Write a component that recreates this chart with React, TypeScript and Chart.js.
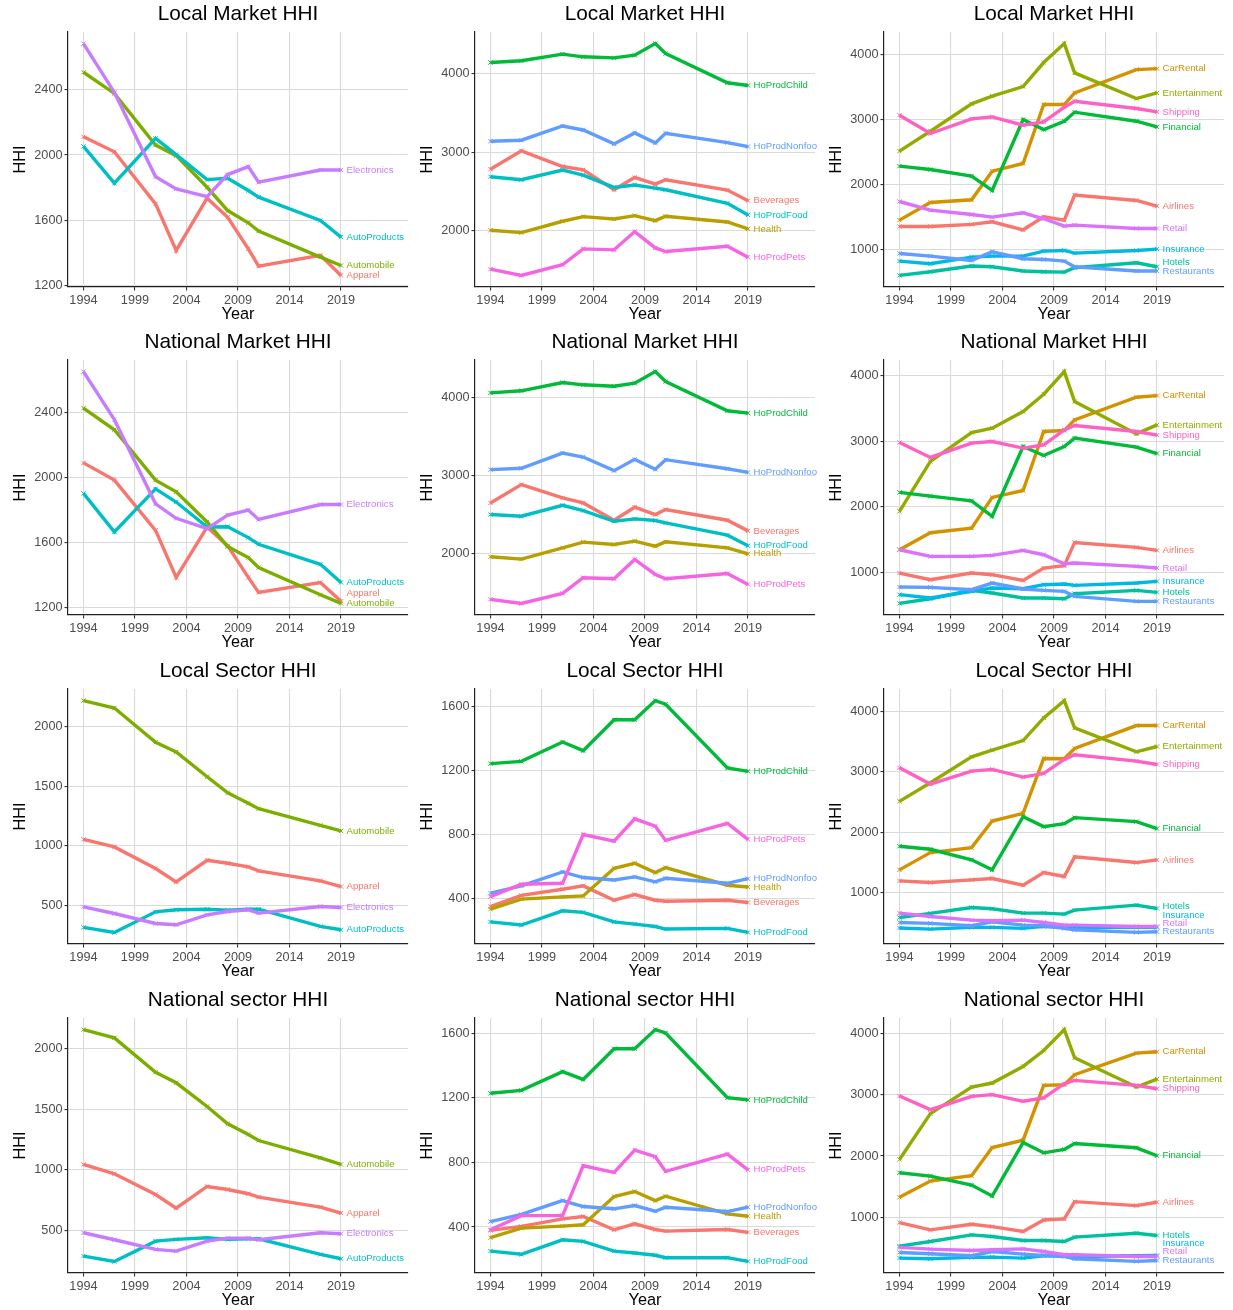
import React, { useEffect, useRef } from 'react';
import { Chart, registerables } from 'chart.js';

Chart.register(...registerables);

const FONT = '"Liberation Sans", Arial, Helvetica, sans-serif';

// ---------- shared axes ----------
const YEARS = [1994, 1997, 2001, 2003, 2006, 2008, 2010, 2011, 2017, 2019];
const X_TICKS = [1994, 1999, 2004, 2009, 2014, 2019];
const X_LIMITS = [1994, 2024];

// ---------- series groups ----------
const NAMES_A = ['Apparel', 'Automobile', 'AutoProducts', 'Electronics'];
const COLORS_A = ['#F8766D', '#7CAE00', '#00BFC4', '#C77CFF'];

const NAMES_B = ['Beverages', 'Health', 'HoProdChild', 'HoProdFood', 'HoProdNonfoo', 'HoProdPets'];
const COLORS_B = ['#F8766D', '#B79F00', '#00BA38', '#00BFC4', '#619CFF', '#F564E3'];

const NAMES_C = ['Airlines', 'CarRental', 'Entertainment', 'Financial', 'Hotels', 'Insurance', 'Restaurants', 'Retail', 'Shipping'];
const COLORS_C = ['#F8766D', '#D39200', '#93AA00', '#00BA38', '#00C19F', '#00B9E3', '#619CFF', '#DB72FB', '#FF61C3'];

// ---------- y tick labels ----------
const Y_TICKS_A_MARKET = [1200, 1600, 2000, 2400];
const Y_TICKS_A_SECTOR = [500, 1000, 1500, 2000];
const Y_TICKS_B_MARKET = [2000, 3000, 4000];
const Y_TICKS_B_SECTOR = [400, 800, 1200, 1600];
const Y_TICKS_C = [1000, 2000, 3000, 4000];

// ---------- Local Market HHI ----------
const LOCAL_MARKET_A: Record<string, number[]> = {
  Apparel: [2112, 2020, 1700, 1414, 1735, 1618, 1424, 1318, 1384, 1261],
  Automobile: [2508, 2378, 2061, 1996, 1802, 1659, 1584, 1533, 1373, 1322],
  AutoProducts: [2053, 1827, 2102, 2002, 1849, 1857, 1782, 1741, 1598, 1496],
  Electronics: [2684, 2384, 1867, 1792, 1745, 1880, 1929, 1833, 1908, 1908],
};
const LOCAL_MARKET_B: Record<string, number[]> = {
  Beverages: [2783, 3017, 2817, 2775, 2520, 2677, 2592, 2648, 2516, 2380],
  Health: [2002, 1972, 2117, 2176, 2147, 2189, 2125, 2181, 2108, 2019],
  HoProdChild: [4146, 4168, 4253, 4219, 4206, 4240, 4388, 4261, 3887, 3853],
  HoProdFood: [2686, 2648, 2771, 2707, 2550, 2580, 2541, 2520, 2346, 2198],
  HoProdNonfoo: [3140, 3153, 3335, 3284, 3106, 3246, 3119, 3242, 3123, 3072],
  HoProdPets: [1505, 1425, 1561, 1764, 1752, 1985, 1777, 1730, 1798, 1658],
};
const LOCAL_MARKET_C: Record<string, number[]> = {
  Airlines: [1349, 1349, 1380, 1421, 1297, 1497, 1446, 1831, 1749, 1662],
  CarRental: [1446, 1718, 1759, 2200, 2318, 3226, 3226, 3405, 3764, 3779],
  Entertainment: [2508, 2815, 3236, 3354, 3503, 3872, 4164, 3713, 3318, 3405],
  Financial: [2277, 2226, 2123, 1903, 2995, 2841, 2969, 3108, 2969, 2882],
  Hotels: [595, 651, 739, 728, 662, 651, 646, 713, 790, 728],
  Insurance: [815, 774, 877, 892, 892, 969, 979, 938, 979, 1000],
  Restaurants: [933, 892, 826, 959, 851, 841, 815, 728, 662, 662],
  Retail: [1733, 1600, 1533, 1492, 1559, 1467, 1354, 1369, 1318, 1318],
  Shipping: [3062, 2780, 3005, 3036, 2908, 2959, 3185, 3277, 3164, 3113],
};

// ---------- National Market HHI ----------
const NATIONAL_MARKET_A: Record<string, number[]> = {
  Apparel: [2088, 1982, 1673, 1383, 1693, 1577, 1383, 1291, 1352, 1236],
  Automobile: [2425, 2292, 1982, 1910, 1724, 1573, 1505, 1444, 1276, 1223],
  AutoProducts: [1900, 1663, 1928, 1847, 1693, 1695, 1628, 1587, 1464, 1352],
  Electronics: [2650, 2354, 1836, 1747, 1683, 1767, 1798, 1740, 1832, 1832],
};
const NATIONAL_MARKET_B: Record<string, number[]> = {
  Beverages: [2645, 2880, 2709, 2645, 2423, 2590, 2496, 2560, 2423, 2286],
  Health: [1953, 1923, 2068, 2141, 2111, 2154, 2090, 2145, 2068, 1991],
  HoProdChild: [4060, 4086, 4192, 4163, 4145, 4184, 4333, 4205, 3829, 3799],
  HoProdFood: [2496, 2474, 2615, 2547, 2410, 2440, 2419, 2389, 2231, 2094],
  HoProdNonfoo: [3073, 3090, 3286, 3235, 3060, 3205, 3077, 3201, 3085, 3038],
  HoProdPets: [1406, 1354, 1483, 1684, 1671, 1919, 1726, 1671, 1739, 1598],
};
const NATIONAL_MARKET_C: Record<string, number[]> = {
  Airlines: [993, 892, 993, 968, 882, 1069, 1105, 1459, 1383, 1338],
  CarRental: [1348, 1606, 1677, 2144, 2250, 3147, 3162, 3324, 3669, 3694],
  Entertainment: [1931, 2691, 3132, 3198, 3451, 3715, 4059, 3603, 3111, 3248],
  Financial: [2220, 2164, 2093, 1855, 2919, 2782, 2919, 3046, 2909, 2812],
  Hotels: [531, 602, 730, 689, 613, 613, 602, 679, 730, 699],
  Insurance: [664, 613, 714, 765, 755, 816, 826, 806, 841, 866],
  Restaurants: [780, 775, 740, 841, 750, 730, 714, 638, 562, 562],
  Retail: [1348, 1247, 1247, 1262, 1338, 1272, 1135, 1145, 1094, 1069],
  Shipping: [2980, 2752, 2970, 2995, 2894, 2944, 3172, 3238, 3147, 3091],
};

// ---------- Local Sector HHI ----------
const LOCAL_SECTOR_A: Record<string, number[]> = {
  Apparel: [1056, 992, 810, 698, 880, 855, 824, 791, 707, 659],
  Automobile: [2221, 2159, 1871, 1790, 1581, 1447, 1358, 1313, 1173, 1126],
  AutoProducts: [316, 274, 447, 464, 469, 461, 469, 469, 324, 296],
  Electronics: [489, 433, 349, 338, 422, 450, 464, 436, 492, 483],
};
const LOCAL_SECTOR_B: Record<string, number[]> = {
  Beverages: [351, 421, 459, 480, 390, 426, 390, 384, 390, 376],
  Health: [334, 397, 411, 417, 590, 621, 563, 594, 484, 473],
  HoProdChild: [1244, 1258, 1379, 1325, 1518, 1518, 1638, 1615, 1217, 1196],
  HoProdFood: [255, 235, 324, 314, 255, 241, 226, 210, 214, 189],
  HoProdNonfoo: [434, 480, 567, 532, 517, 536, 505, 527, 496, 525],
  HoProdPets: [413, 490, 496, 801, 760, 899, 853, 764, 870, 770],
};
const LOCAL_SECTOR_C: Record<string, number[]> = {
  Airlines: [1194, 1167, 1211, 1233, 1123, 1332, 1266, 1591, 1497, 1541],
  CarRental: [1376, 1662, 1745, 2185, 2312, 3220, 3215, 3385, 3765, 3765],
  Entertainment: [2510, 2818, 3248, 3358, 3517, 3892, 4178, 3727, 3330, 3418],
  Financial: [1767, 1717, 1543, 1376, 2257, 2092, 2141, 2240, 2174, 2059],
  Hotels: [587, 655, 754, 732, 660, 660, 644, 710, 792, 737],
  Insurance: [413, 396, 424, 424, 407, 440, 424, 424, 424, 424],
  Restaurants: [506, 490, 451, 517, 462, 451, 407, 385, 341, 352],
  Retail: [660, 605, 545, 534, 545, 506, 462, 462, 440, 440],
  Shipping: [3066, 2796, 3011, 3039, 2912, 2972, 3204, 3281, 3176, 3121],
};

// ---------- National sector HHI ----------
const NATIONAL_SECTOR_A: Record<string, number[]> = {
  Apparel: [1044, 967, 797, 685, 863, 838, 803, 775, 693, 644],
  Automobile: [2154, 2086, 1803, 1716, 1521, 1378, 1291, 1241, 1099, 1044],
  AutoProducts: [290, 246, 413, 427, 441, 427, 432, 432, 304, 268],
  Electronics: [482, 424, 345, 331, 413, 438, 438, 424, 482, 474],
};
const NATIONAL_SECTOR_B: Record<string, number[]> = {
  Beverages: [379, 404, 451, 465, 383, 420, 385, 375, 385, 367],
  Health: [334, 393, 406, 414, 589, 620, 564, 591, 482, 467],
  HoProdChild: [1229, 1247, 1363, 1315, 1505, 1505, 1624, 1603, 1202, 1188],
  HoProdFood: [251, 231, 321, 311, 251, 239, 225, 210, 210, 187],
  HoProdNonfoo: [434, 478, 564, 527, 513, 533, 498, 523, 496, 523],
  HoProdPets: [383, 471, 471, 780, 739, 877, 836, 745, 852, 755],
};
const NATIONAL_SECTOR_C: Record<string, number[]> = {
  Airlines: [915, 796, 888, 850, 769, 958, 975, 1256, 1191, 1246],
  CarRental: [1327, 1592, 1679, 2139, 2258, 3152, 3162, 3325, 3677, 3699],
  Entertainment: [1944, 2691, 3125, 3190, 3460, 3720, 4061, 3601, 3125, 3254],
  Financial: [1727, 1673, 1527, 1348, 2220, 2052, 2107, 2204, 2134, 2004],
  Hotels: [531, 607, 715, 688, 623, 623, 607, 677, 742, 704],
  Insurance: [336, 325, 347, 352, 336, 374, 374, 363, 374, 379],
  Restaurants: [428, 406, 374, 444, 401, 379, 363, 325, 282, 298],
  Retail: [510, 482, 460, 471, 487, 444, 390, 390, 363, 363],
  Shipping: [2978, 2756, 2973, 3000, 2892, 2946, 3179, 3233, 3152, 3097],
};

// ---------- end-label repel offsets (HHI units) ----------
const NUDGE_LOCAL_MARKET_C: Record<string, number> = { Hotels: 62 };
const NUDGE_NATIONAL_MARKET_A: Record<string, number> = { Apparel: 51 };
const NUDGE_LOCAL_SECTOR_C: Record<string, number> = { Hotels: 33, Insurance: 204, Retail: 50 };
const NUDGE_NATIONAL_SECTOR_C: Record<string, number> = { Hotels: 11, Insurance: 201, Retail: 76 };

type Panel = {
  title: string;
  names: string[];
  colors: string[];
  series: Record<string, number[]>;
  yTicks: number[];
  nudge?: Record<string, number>;
  col: number;
  row: number;
};

const PANELS: Panel[] = [
  { title: 'Local Market HHI', names: NAMES_A, colors: COLORS_A, series: LOCAL_MARKET_A, yTicks: Y_TICKS_A_MARKET, col: 0, row: 0 },
  { title: 'Local Market HHI', names: NAMES_B, colors: COLORS_B, series: LOCAL_MARKET_B, yTicks: Y_TICKS_B_MARKET, col: 1, row: 0 },
  { title: 'Local Market HHI', names: NAMES_C, colors: COLORS_C, series: LOCAL_MARKET_C, yTicks: Y_TICKS_C, nudge: NUDGE_LOCAL_MARKET_C, col: 2, row: 0 },
  { title: 'National Market HHI', names: NAMES_A, colors: COLORS_A, series: NATIONAL_MARKET_A, yTicks: Y_TICKS_A_MARKET, nudge: NUDGE_NATIONAL_MARKET_A, col: 0, row: 1 },
  { title: 'National Market HHI', names: NAMES_B, colors: COLORS_B, series: NATIONAL_MARKET_B, yTicks: Y_TICKS_B_MARKET, col: 1, row: 1 },
  { title: 'National Market HHI', names: NAMES_C, colors: COLORS_C, series: NATIONAL_MARKET_C, yTicks: Y_TICKS_C, col: 2, row: 1 },
  { title: 'Local Sector HHI', names: NAMES_A, colors: COLORS_A, series: LOCAL_SECTOR_A, yTicks: Y_TICKS_A_SECTOR, col: 0, row: 2 },
  { title: 'Local Sector HHI', names: NAMES_B, colors: COLORS_B, series: LOCAL_SECTOR_B, yTicks: Y_TICKS_B_SECTOR, col: 1, row: 2 },
  { title: 'Local Sector HHI', names: NAMES_C, colors: COLORS_C, series: LOCAL_SECTOR_C, yTicks: Y_TICKS_C, nudge: NUDGE_LOCAL_SECTOR_C, col: 2, row: 2 },
  { title: 'National sector HHI', names: NAMES_A, colors: COLORS_A, series: NATIONAL_SECTOR_A, yTicks: Y_TICKS_A_SECTOR, col: 0, row: 3 },
  { title: 'National sector HHI', names: NAMES_B, colors: COLORS_B, series: NATIONAL_SECTOR_B, yTicks: Y_TICKS_B_SECTOR, col: 1, row: 3 },
  { title: 'National sector HHI', names: NAMES_C, colors: COLORS_C, series: NATIONAL_SECTOR_C, yTicks: Y_TICKS_C, nudge: NUDGE_NATIONAL_SECTOR_C, col: 2, row: 3 },
];

// ---------- layout ----------
const COL_X = [2, 409, 818];
const ROW_Y = [0, 328, 657, 986];
const ROW_H = [328, 328, 328, 324];
const CANVAS_W = 411;
const PLOT_LEFT = 66;
const PLOT_W = 344;
const PLOT_TOP = 32;
const PLOT_BOTTOM = 287;

const GRID_COLOR = '#dadada';
const TICK_TEXT = '#4d4d4d';

function PanelChart({ p }: { p: Panel }) {
  const ref = useRef<HTMLCanvasElement | null>(null);
  const H = ROW_H[p.row];

  useEffect(() => {
    if (!ref.current) return;
    const all = p.names.flatMap((n) => p.series[n]);
    const lo = Math.min(...all);
    const hi = Math.max(...all);
    const yPad = (hi - lo) * 0.05;
    const xPad = (X_LIMITS[1] - X_LIMITS[0]) * 0.05;
    const last = YEARS.length - 1;

    const textPlugin = {
      id: 'panelText',
      afterDraw(chart: any) {
        const { ctx, chartArea: a, scales } = chart;
        const xs = scales.x;
        const ys = scales.y;
        ctx.save();
        ctx.fillStyle = '#000';
        ctx.textAlign = 'center';
        ctx.textBaseline = 'middle';
        ctx.font = `20.8px ${FONT}`;
        ctx.fillText(p.title, (a.left + a.right) / 2, a.top - 17.5);
        ctx.font = `16.3px ${FONT}`;
        ctx.fillText('Year', (a.left + a.right) / 2, a.bottom + 28);
        ctx.save();
        ctx.translate(a.left - 47.5, (a.top + a.bottom) / 2);
        ctx.rotate(-Math.PI / 2);
        ctx.fillText('HHI', 0, 0);
        ctx.restore();
        ctx.font = `9.6px ${FONT}`;
        ctx.textAlign = 'left';
        p.names.forEach((n, i) => {
          const v = p.series[n][last] + ((p.nudge && p.nudge[n]) || 0);
          ctx.fillStyle = p.colors[i];
          ctx.fillText(n, xs.getPixelForValue(YEARS[last]) + 5.5, ys.getPixelForValue(v));
        });
        ctx.restore();
      },
    };

    const chart = new Chart(ref.current, {
      type: 'line',
      data: {
        datasets: p.names.map((n, i) => ({
          label: n,
          data: YEARS.map((x, j) => ({ x, y: p.series[n][j] })),
          borderColor: p.colors[i],
          backgroundColor: p.colors[i],
          borderWidth: 3.4,
          pointStyle: 'crossRot',
          pointRadius: 3,
          pointBorderWidth: 1,
          pointBorderColor: p.colors[i],
          pointBackgroundColor: p.colors[i],
          tension: 0,
          fill: false,
          order: p.names.length - i,
        })),
      },
      options: {
        responsive: false,
        animation: false,
        devicePixelRatio: 1,
        layout: { padding: { top: PLOT_TOP, left: 0, right: CANVAS_W - PLOT_LEFT - PLOT_W, bottom: 0 } },
        plugins: { legend: { display: false }, title: { display: false }, tooltip: { enabled: false } },
        scales: {
          x: {
            type: 'linear',
            min: X_LIMITS[0] - xPad,
            max: X_LIMITS[1] + xPad,
            afterBuildTicks: (s: any) => {
              s.ticks = X_TICKS.map((v) => ({ value: v }));
            },
            afterFit: (s: any) => {
              s.height = H - PLOT_BOTTOM;
            },
            grid: { color: GRID_COLOR, lineWidth: 1.1, tickLength: 3.5, tickColor: '#333', drawTicks: true },
            border: { display: true, color: '#222', width: 1.2 },
            ticks: {
              autoSkip: false,
              maxRotation: 0,
              padding: 2,
              color: TICK_TEXT,
              font: { family: FONT, size: 12.7 },
              callback: (v: any) => String(v),
            },
          },
          y: {
            type: 'linear',
            min: lo - yPad,
            max: hi + yPad,
            afterBuildTicks: (s: any) => {
              s.ticks = p.yTicks.map((v) => ({ value: v }));
            },
            afterFit: (s: any) => {
              s.width = PLOT_LEFT;
            },
            grid: { color: GRID_COLOR, lineWidth: 1.1, tickLength: 3.5, tickColor: '#333', drawTicks: true },
            border: { display: true, color: '#222', width: 1.2 },
            ticks: {
              padding: 2,
              color: TICK_TEXT,
              font: { family: FONT, size: 12.7 },
              callback: (v: any) => String(v),
            },
          },
        },
      } as any,
      plugins: [textPlugin],
    });
    return () => chart.destroy();
  }, [p, H]);

  return (
    <canvas
      ref={ref}
      width={CANVAS_W}
      height={H}
      style={{ position: 'absolute', left: COL_X[p.col], top: ROW_Y[p.row], width: CANVAS_W, height: H }}
    />
  );
}

export default function App() {
  return (
    <div
      style={{
        position: 'absolute',
        left: 0,
        top: 0,
        width: 1233,
        height: 1310,
        overflow: 'hidden',
        background: '#ffffff',
      }}
    >
      {PANELS.map((p, i) => (
        <PanelChart key={i} p={p} />
      ))}
    </div>
  );
}
